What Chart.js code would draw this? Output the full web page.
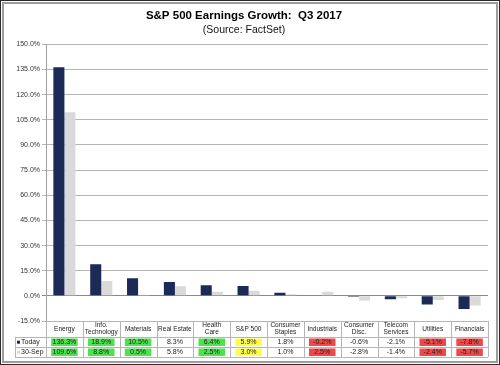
<!DOCTYPE html>
<html><head><meta charset="utf-8">
<script src="https://cdn.jsdelivr.net/npm/chart.js@4"></script>
<style>html,body{margin:0;padding:0;background:#fff;}canvas{display:block;}</style>
</head><body>
<canvas id="c" width="500" height="365"></canvas>
<script>
const categories = [["Energy"],["Info.","Technology"],["Materials"],["Real Estate"],["Health","Care"],["S&P 500"],["Consumer","Staples"],["Industrials"],["Consumer","Disc."],["Telecom","Services"],["Utilities"],["Financials"]];
const today = [136.3,18.9,10.5,8.3,6.4,5.9,1.8,-0.2,-0.6,-2.1,-5.1,-7.8];
const sep30 = [109.6,8.8,0.5,5.8,2.5,3.0,1.0,2.5,-2.8,-1.4,-2.4,-5.7];
const seriesNames = ["Today","30-Sep"];
const yMin = -15, yMax = 150, yStep = 15;
const highlightToday = ["g","g","g","","g","y","","r","","","r","r"];
const highlightSep   = ["g","g","g","","g","y","","r","","","r","r"];

const NAVY = '#1b2a57', LIGHT = '#dadada';
const HL = {g:'#4fe24f', y:'#ffff4a', r:'#f04848'};
const FONT = 'Arial, "Liberation Sans", sans-serif';

const tablePlugin = {
  id:'table',
  afterDraw(chart){
    const ctx = chart.ctx, xs = chart.scales.x, ca = chart.chartArea;
    const n = categories.length, w = (ca.right - ca.left)/n;
    const top = ca.bottom, hdrB = top + 16, r1B = hdrB + 10, r2B = r1B + 10;
    const leftX = 15;
    const rows = [
      {name:seriesNames[0], vals:today, hl:highlightToday, color:NAVY, y0:hdrB},
      {name:seriesNames[1], vals:sep30, hl:highlightSep, color:LIGHT, y0:r1B}
    ];
    ctx.save();
    rows.forEach(row=>{
      row.vals.forEach((v,i)=>{
        const c = HL[row.hl[i]];
        if(c){
          const cx = xs.getPixelForValue(i);
          ctx.fillStyle = c;
          ctx.fillRect(cx - w*0.36, row.y0 + 1.5, w*0.72, 7.5);
        }
      });
    });
    ctx.strokeStyle = '#b5b5b5'; ctx.lineWidth = 1;
    ctx.beginPath();
    [hdrB, r1B, r2B].forEach(y=>{ ctx.moveTo(leftX, Math.round(y)+0.5); ctx.lineTo(ca.right, Math.round(y)+0.5); });
    for(let k=0;k<=n;k++){
      const x = Math.round(ca.left + k*w)+0.5;
      ctx.moveTo(x, top); ctx.lineTo(x, r2B);
    }
    ctx.moveTo(leftX+0.5, hdrB); ctx.lineTo(leftX+0.5, r2B);
    ctx.stroke();
    ctx.fillStyle = '#222'; ctx.textAlign = 'center'; ctx.textBaseline = 'middle';
    ctx.font = '6.5px ' + FONT;
    categories.forEach((lab,i)=>{
      const cx = xs.getPixelForValue(i);
      const mid = (top + hdrB)/2;
      lab.forEach((t,j)=>{
        ctx.fillText(t, cx, mid + (j - (lab.length-1)/2)*7);
      });
    });
    ctx.font = '7px ' + FONT;
    rows.forEach(row=>{
      const ym = row.y0 + 5.2;
      row.vals.forEach((v,i)=>{
        ctx.fillStyle = '#222';
        ctx.fillText(v.toFixed(1)+'%', xs.getPixelForValue(i), ym);
      });
      ctx.fillStyle = row.color;
      ctx.fillRect(17, ym-1.5, 3, 3);
      ctx.fillStyle = '#222'; ctx.textAlign = 'left';
      ctx.fillText(row.name, 21, ym);
      ctx.textAlign = 'center';
    });
    ctx.strokeStyle = '#2a2a2a'; ctx.lineWidth = 1;
    ctx.strokeRect(0.5, 0.5, 499, 364);
    ctx.strokeStyle = '#9c9c9c'; ctx.lineWidth = 2;
    ctx.strokeRect(3, 3, 494, 359);
    ctx.restore();
  }
};

new Chart(document.getElementById('c'), {
  type:'bar',
  data:{
    labels: categories,
    datasets:[
      {label:seriesNames[0], data:today, backgroundColor:NAVY, categoryPercentage:0.6, barPercentage:1.0},
      {label:seriesNames[1], data:sep30, backgroundColor:LIGHT, categoryPercentage:0.6, barPercentage:1.0}
    ]
  },
  options:{
    responsive:false, animation:false,
    layout:{padding:{left:0, right:12, bottom:44, top:0}},
    plugins:{
      legend:{display:false}, tooltip:{enabled:false},
      title:{display:true, text:'S&P 500 Earnings Growth:  Q3 2017', color:'#000',
        font:{family:FONT, size:11.5, weight:'bold', lineHeight:1.2}, padding:{top:9, bottom:1}},
      subtitle:{display:true, text:'(Source: FactSet)', color:'#111',
        font:{family:FONT, size:10.5, lineHeight:1.2}, padding:{top:0, bottom:8}}
    },
    scales:{
      x:{display:false},
      y:{
        min:yMin, max:yMax,
        afterFit(s){ s.width = 46; },
        ticks:{stepSize:yStep, color:'#333', font:{family:FONT, size:7}, padding:2,
          callback:v=>v.toFixed(1)+'%'},
        grid:{color:ctx=>ctx.tick && ctx.tick.value===0 ? '#8a8a8a' : '#b5b5b5', tickLength:4, lineWidth:1},
        border:{display:true, color:'#a0a0a0'}
      }
    }
  },
  plugins:[tablePlugin]
});
</script>
</body></html>
